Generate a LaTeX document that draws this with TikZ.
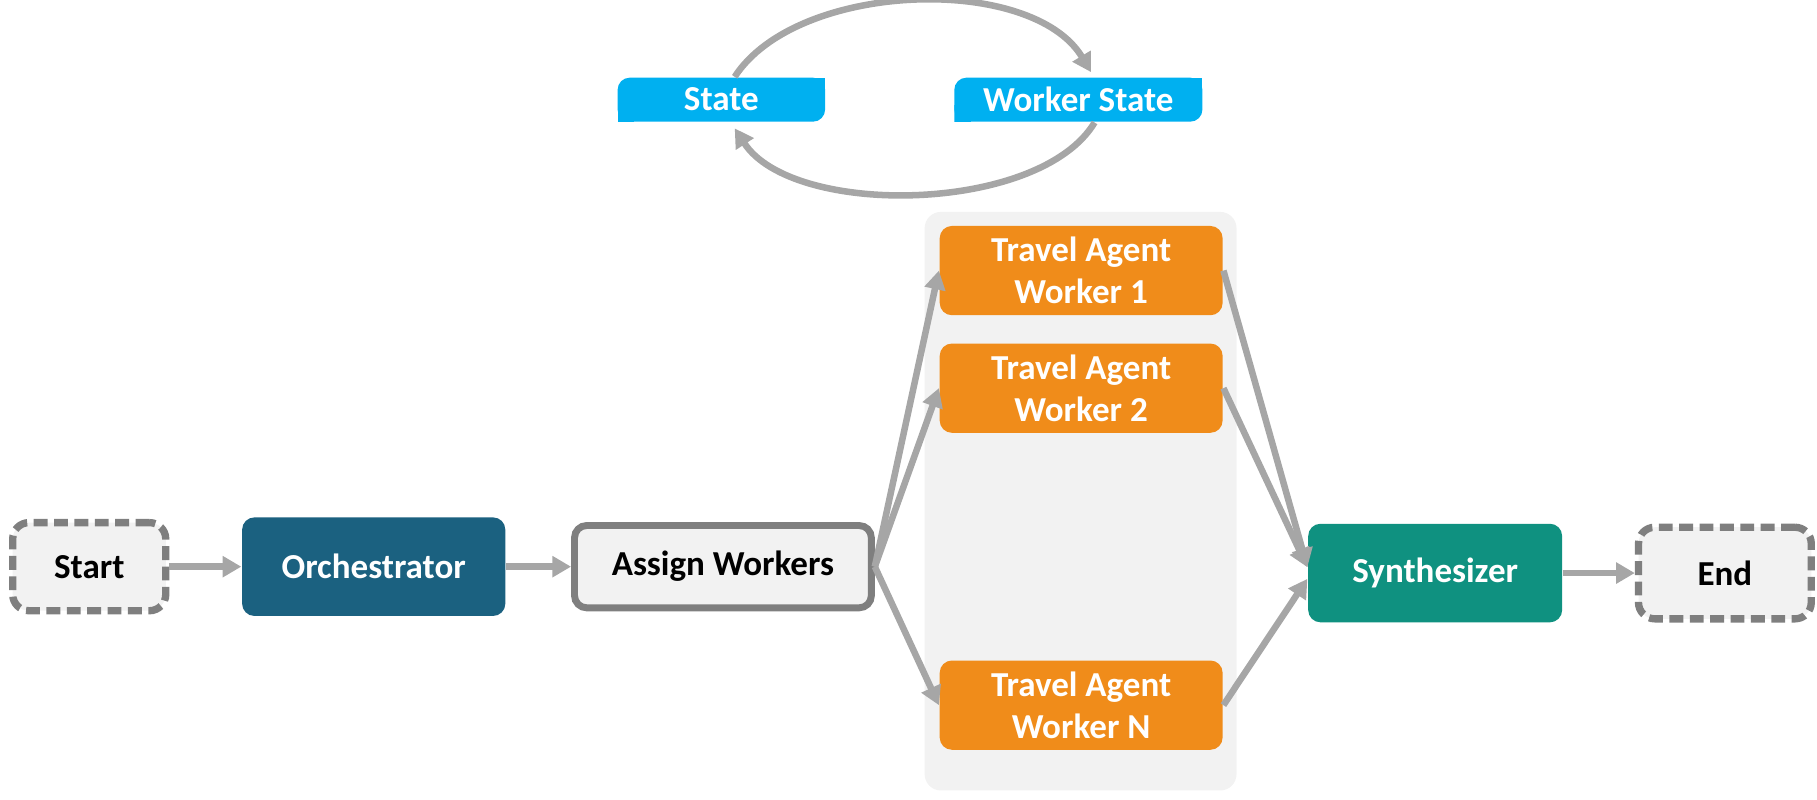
\documentclass[tikz,border=0pt]{standalone}
\usepackage{fontspec}
\setmainfont{Carlito}
\usetikzlibrary{positioning,arrows.meta}

\definecolor{flowgray}{HTML}{A6A6A6}
\definecolor{edgegray}{HTML}{7F7F7F}
\definecolor{boxgray}{HTML}{F2F2F2}
\definecolor{orchblue}{HTML}{1B6180}
\definecolor{workorange}{HTML}{F08C1A}
\definecolor{synthgreen}{HTML}{0F9180}
\definecolor{stateblue}{HTML}{00B0F0}

\begin{document}
\begin{tikzpicture}[x=0.01cm,y=-0.01cm,>={Triangle[length=4.6pt,width=5pt]},font=\fontsize{8.6}{10.3}\selectfont\bfseries,
    flow/.style={->,draw=flowgray,line width=1.6pt},
    terminal/.style={draw=edgegray,fill=boxgray,line width=1.8pt,dash pattern=on 3.4pt off 1.6pt,rounded corners=4pt,inner sep=0pt,minimum width=1.32cm,minimum height=0.76cm},
    orchbox/.style={fill=orchblue,text=white,rounded corners=3pt,inner sep=0pt,minimum width=2.27cm,minimum height=0.85cm},
    assignbox/.style={draw=edgegray,fill=boxgray,line width=1.7pt,rounded corners=3pt,inner sep=0pt,minimum width=2.56cm,minimum height=0.71cm},
    pool/.style={fill=boxgray,rounded corners=4pt,minimum width=2.69cm,minimum height=4.99cm},
    worker/.style={fill=workorange,text=white,align=center,rounded corners=3pt,inner sep=0pt,minimum width=2.44cm,minimum height=0.77cm},
    synthbox/.style={fill=synthgreen,text=white,rounded corners=3pt,inner sep=0pt,minimum width=2.19cm,minimum height=0.85cm},
    statebox/.style={fill=white,text=white,inner sep=0pt,minimum width=1.79cm,minimum height=0.38cm,text depth=0.3pt,
      path picture={
        \fill[stateblue,rounded corners=3pt] (path picture bounding box.south west) rectangle (path picture bounding box.north east);
        \fill[stateblue] (path picture bounding box.south west) rectangle ++(4pt,4pt);
        \fill[stateblue] (path picture bounding box.north east) rectangle ++(-4pt,-4pt);}}]
    \useasboundingbox (0,0) rectangle (1568,689.5);

    % state loop
    \node[statebox] (state) at (622.5,86) {State};
    \node[statebox,minimum width=2.14cm] (wstate) [right=1.1cm of state] {Worker State};
    \draw[flow] ([xshift=0.115cm]state.north) to[out=57,in=121,distance=0.99cm] ([xshift=0.11cm,yshift=0.04cm]wstate.north);
    \draw[flow] ([xshift=0.14cm]wstate.south) to[out=-121,in=-57,distance=0.92cm] ([xshift=0.115cm,yshift=-0.05cm]state.south);

    % main flow
    \node[terminal] (start) at (77,489) {Start};
    \node[orchbox] (orch) [right=0.62cm of start] {Orchestrator};
    \node[assignbox] (assign) [right=0.56cm of orch] {Assign Workers};

    \node[pool] (pool) at (932.5,432.5) {};
    \node[worker] (w1) at (933,233.5) {Travel Agent\\Worker 1};
    \node[worker] (w2) [below=0.23cm of w1] {Travel Agent\\Worker 2};
    \node[worker] (wn) at (933,608.5) {Travel Agent\\Worker N};

    \node[synthbox] (synth) at (1238.5,494.5) {Synthesizer};
    \node[terminal,minimum width=1.49cm,minimum height=0.79cm] (end) [right=0.62cm of synth] {End};

    \draw[flow] (start) -- (orch);
    \draw[flow] (orch) -- (assign);
    \foreach \w in {w1,w2,wn}
      \draw[flow] (assign.east) -- (\w.west);
    \draw[flow] (w1.east) -- ([yshift=0.05cm]synth.west);
    \draw[flow] (w2.east) -- ([yshift=0.05cm]synth.west);
    \draw[flow] (wn.east) -- ([yshift=-0.05cm]synth.west);
    \draw[flow] (synth) -- (end);
\end{tikzpicture}
\end{document}
